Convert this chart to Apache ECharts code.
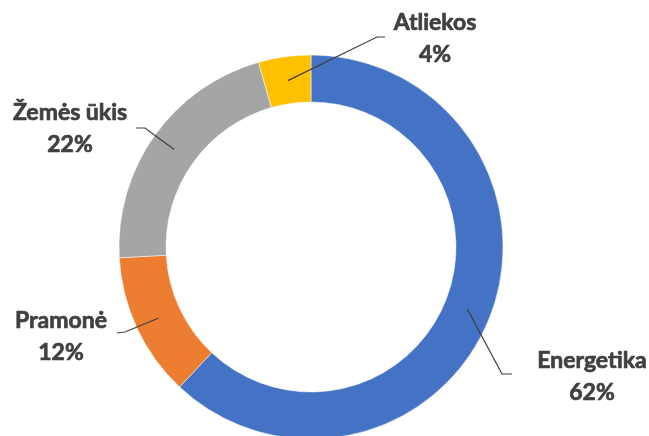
<!DOCTYPE html>
<html>
<head>
<meta charset="utf-8">
<script src="https://cdn.jsdelivr.net/npm/echarts@6/dist/echarts.min.js"></script>
<style>
html,body{margin:0;padding:0;background:#fff;}
#chart{width:649px;height:436px;}
</style>
</head>
<body>
<div id="chart"></div>
<script>
// Data
const categories = ['Energetika', 'Pramonė', 'Žemės ūkis', 'Atliekos'];
const values = [62.0, 12.1, 21.5, 4.4];
const colors = ['#4472C4', '#ED7D31', '#A5A5A5', '#FFC000'];

// Layout (label placement, not data)
const center = [311, 247];
const radii = [145, 192];
const lineStartRadius = 168;
const labelLayoutCfg = [
  { x: 592, y: 377, bend: [502, 374], end: [512, 374] },
  { x: 61, y: 337, bend: [125, 332], end: [117, 333] },
  { x: 70, y: 129, bend: [145, 128], end: [136, 128] },
  { x: 435, y: 39, bend: [377, 37], end: [385, 37] }
];

const chart = echarts.init(document.getElementById('chart'), null, { renderer: 'canvas' });
const total = values.reduce((a, b) => a + b, 0);
const pieData = categories.map((c, i) => ({ name: c, value: values[i], itemStyle: { color: colors[i] } }));

chart.setOption({
  backgroundColor: '#ffffff',
  animation: false,
  series: [{
    type: 'pie',
    z: 2,
    center: center,
    radius: radii,
    startAngle: 90,
    clockwise: true,
    silent: true,
    data: pieData,
    itemStyle: { borderColor: '#ffffff', borderWidth: 0.5 },
    label: { show: false },
    labelLine: { show: false }
  }, {
    type: 'pie',
    z: 3,
    center: center,
    radius: radii,
    startAngle: 90,
    clockwise: true,
    silent: true,
    percentPrecision: 0,
    avoidLabelOverlap: false,
    data: categories.map((c, i) => ({ name: c, value: values[i] })),
    itemStyle: { color: 'rgba(0,0,0,0)', borderWidth: 0 },
    label: {
      show: true,
      position: 'outside',
      formatter: '{b}\n{d}%',
      fontFamily: 'Lato',
      fontWeight: 'bold',
      fontSize: 23,
      lineHeight: 32,
      color: '#404040',
      textBorderColor: '#404040',
      textBorderWidth: 0.7,
      align: 'center'
    },
    labelLine: {
      show: true,
      length: 10,
      length2: 10,
      lineStyle: { color: '#404040', width: 1.2 }
    },
    labelLayout: function (params) {
      const i = params.dataIndex;
      const cfg = labelLayoutCfg[i];
      let before = 0;
      for (let k = 0; k < i; k++) before += values[k];
      const midFrac = (before + values[i] / 2) / total;
      const ang = (90 - midFrac * 360) * Math.PI / 180;
      const sx = center[0] + lineStartRadius * Math.cos(ang);
      const sy = center[1] - lineStartRadius * Math.sin(ang);
      return {
        x: cfg.x,
        y: cfg.y,
        align: 'center',
        verticalAlign: 'middle',
        labelLinePoints: [[sx, sy], cfg.bend, cfg.end]
      };
    }
  }]
});
</script>
</body>
</html>
